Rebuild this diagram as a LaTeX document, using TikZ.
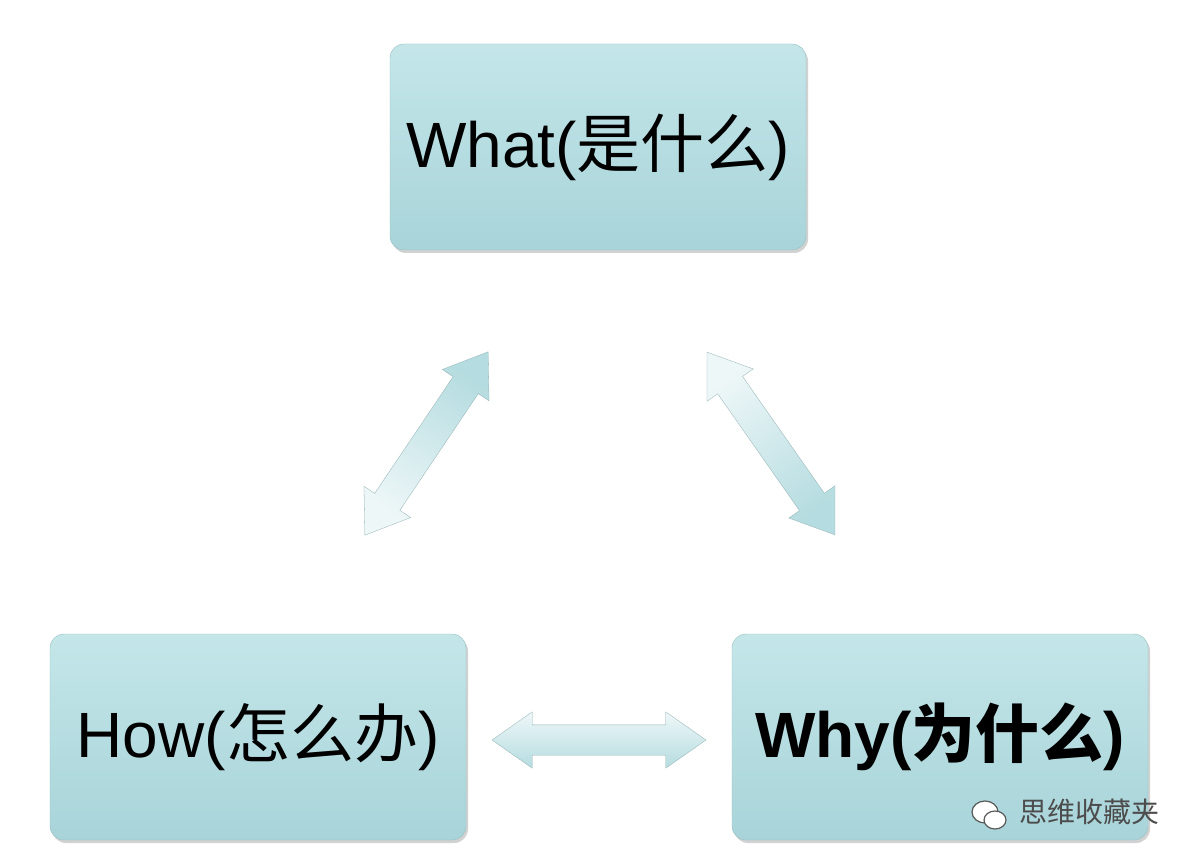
\documentclass[tikz,border=0pt]{standalone}
\usepackage{fontspec}
\setmainfont{Liberation Sans}
\newfontfamily\cjk{Noto Sans CJK SC}
\usetikzlibrary{shapes.arrows,shadows,calc}
\definecolor{boxtop}{HTML}{C4E6E9}
\definecolor{boxbot}{HTML}{A8D4D9}
\definecolor{arrA}{HTML}{EEF7F8}
\definecolor{arrB}{HTML}{B5DCE0}
\tikzset{
  box/.style={rounded corners=14pt, top color=boxtop, bottom color=boxbot, draw=boxbot!90!black, line width=0.4pt,
    minimum width=416pt, minimum height=206pt, inner sep=0pt, font=\fontsize{64}{70}\selectfont,
    drop shadow={shadow xshift=2pt, shadow yshift=-3pt, opacity=0.35}},
  darr/.style={double arrow, double arrow head extend=13pt, double arrow tip angle=70, inner xsep=0pt, inner ysep=15pt,
    shading=axis, left color=arrA, right color=arrB, draw=arrB!80!black, line width=0.3pt},
}
\begin{document}
\begin{tikzpicture}[x=1pt,y=-1pt]
\useasboundingbox[fill=white] (0,0) rectangle (1198,866);
\node[box] (what) at (598,147) {What({\cjk 是什么})};
\node[box] (how) at (258,737) {How({\cjk 怎么办})};
\node[box] (why) at (940,737) {\bfseries Why({\cjk\bfseries 为什么})};
\node[darr, minimum height=221pt, rotate=56.1, shading angle=146] (a1) at (426.5,443.5) {};
\node[darr, minimum height=223pt, rotate=-55, shading angle=35] (a2) at (771,443.5) {};
\node[darr, minimum height=214pt, shading angle=0] (a3) at (599,740) {};
\coordinate (wm) at (985,812);
\begin{scope}[draw=gray!70!black, fill=white, line width=1.2pt]
\filldraw (wm) ellipse (13pt and 11pt);
\filldraw ($(wm)+(10,8)$) ellipse (11pt and 9pt);
\end{scope}
\node[font=\cjk\fontsize{28}{30}\selectfont, text=gray!60!black, anchor=west] (wmt) at (1016,812) {思维收藏夹};
\end{tikzpicture}
\end{document}
